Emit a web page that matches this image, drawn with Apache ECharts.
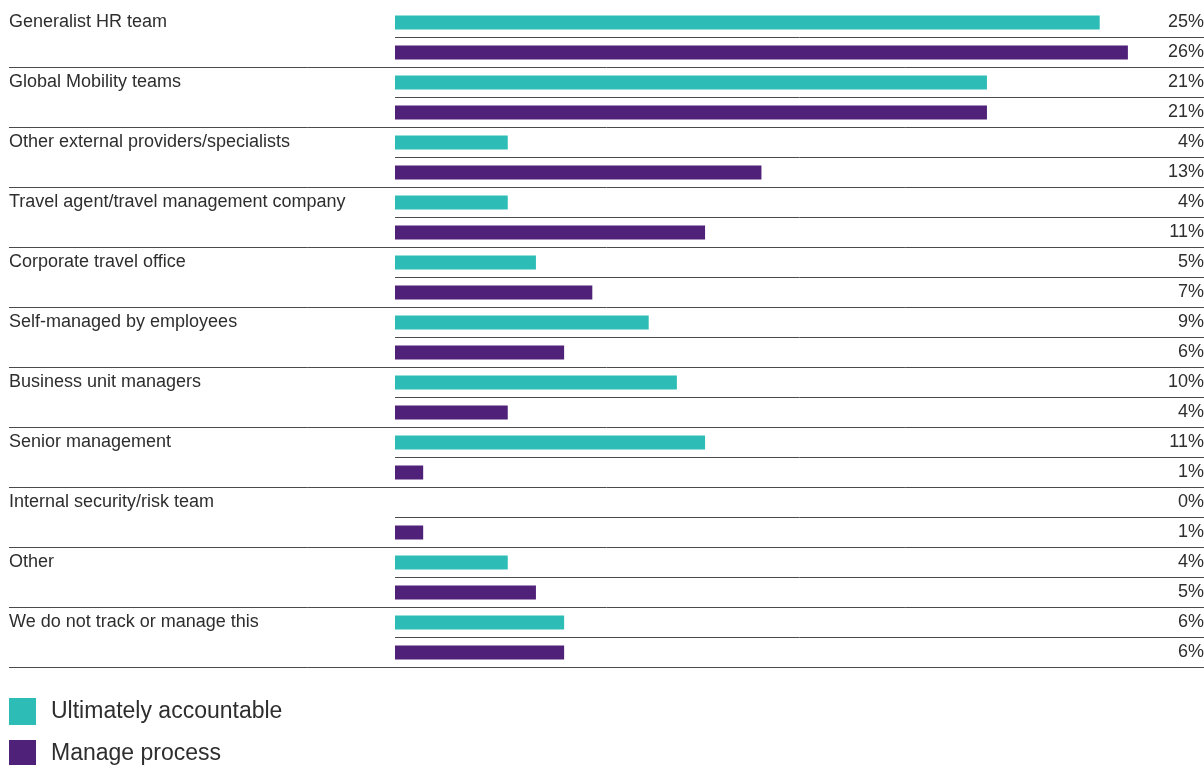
<!DOCTYPE html>
<html>
<head>
<meta charset="utf-8">
<script src="https://cdn.jsdelivr.net/npm/echarts@6/dist/echarts.min.js"></script>
<style>
  html, body { margin: 0; padding: 0; background: #fff; }
  #chart { width: 1204px; height: 765px; }
</style>
</head>
<body>
<div id="chart"></div>
<script>
// Who is responsible, by party: share of responses
const categories = [
  'Generalist HR team',
  'Global Mobility teams',
  'Other external providers/specialists',
  'Travel agent/travel management company',
  'Corporate travel office',
  'Self-managed by employees',
  'Business unit managers',
  'Senior management',
  'Internal security/risk team',
  'Other',
  'We do not track or manage this'
];
const accountable = [25, 21, 4, 4, 5, 9, 10, 11, 0, 4, 6];
const manage = [26, 21, 13, 11, 7, 6, 4, 1, 1, 5, 6];
const seriesNames = ['Ultimately accountable', 'Manage process'];

// Each party gets two rows: accountable first, then manage
const rows = [];
const rowLabels = [];
const rowValues = [];
const tealData = [];
const purpleData = [];
categories.forEach((c, i) => {
  rows.push(c + '|a', c + '|m');
  rowLabels.push(c, '');
  rowValues.push(accountable[i], manage[i]);
  tealData.push(accountable[i], '-');
  purpleData.push('-', manage[i]);
});

const TEAL = '#2dbdb6';
const PURPLE = '#4f2178';
const TEXT = '#2e2e2e';
const LINE = '#4a4a4a';
const FONT = '"Liberation Sans", Arial, sans-serif';

const chart = echarts.init(document.getElementById('chart'), null, { renderer: 'canvas' });

chart.setOption({
  animation: false,
  textStyle: { fontFamily: FONT },
  grid: [
    // full width: party labels and separators between parties
    { left: 9, top: 7.5, width: 1195, height: 660, outerBoundsMode: 'none' },
    // bar area, running to the right edge
    { left: 395, top: 7.5, width: 809, height: 660, outerBoundsMode: 'none' }
  ],
  xAxis: [
    { type: 'value', gridIndex: 0, show: false, min: 0, max: 1 },
    { type: 'value', gridIndex: 1, show: false, min: 0, max: 28.7 }
  ],
  yAxis: [
    {
      type: 'category', gridIndex: 0, data: rows, inverse: true,
      axisLine: { show: false }, axisTick: { show: false },
      axisLabel: {
        inside: true, margin: 0, interval: 0,
        color: TEXT, fontSize: 18, fontFamily: FONT,
        verticalAlign: 'middle', padding: [2, 0, 0, 0],
        formatter: (v, idx) => rowLabels[idx]
      },
      splitLine: {
        show: true,
        interval: (idx) => idx > 0 && idx % 2 === 0,
        lineStyle: { color: LINE, width: 1 }
      }
    },
    {
      type: 'category', gridIndex: 1, data: rows, inverse: true,
      axisLine: { show: false }, axisTick: { show: false }, axisLabel: { show: false },
      splitLine: {
        show: true,
        interval: (idx) => idx % 2 === 1,
        lineStyle: { color: LINE, width: 1 }
      }
    },
    {
      type: 'category', gridIndex: 1, data: rows, inverse: true,
      position: 'right', offset: 0,
      axisLine: { show: false }, axisTick: { show: false }, splitLine: { show: false },
      axisLabel: {
        inside: true, margin: 0, interval: 0,
        color: TEXT, fontSize: 18, fontFamily: FONT,
        verticalAlign: 'middle', padding: [3, 0, 0, 0],
        formatter: (v, idx) => rowValues[idx] + '%'
      }
    }
  ],
  legend: {
    orient: 'vertical', left: 9, top: 698, height: 120, padding: 0,
    itemWidth: 27, itemHeight: 27, itemGap: 15,
    icon: 'rect',
    data: seriesNames,
    textStyle: { color: TEXT, fontSize: 23, fontFamily: FONT, padding: [2, 0, 0, 10] }
  },
  series: [
    {
      name: seriesNames[0], type: 'bar', xAxisIndex: 1, yAxisIndex: 1,
      data: tealData, barWidth: 14, barGap: '-100%',
      itemStyle: { color: TEAL }
    },
    {
      name: seriesNames[1], type: 'bar', xAxisIndex: 1, yAxisIndex: 1,
      data: purpleData, barWidth: 14, barGap: '-100%',
      itemStyle: { color: PURPLE }
    }
  ]
});
</script>
</body>
</html>
